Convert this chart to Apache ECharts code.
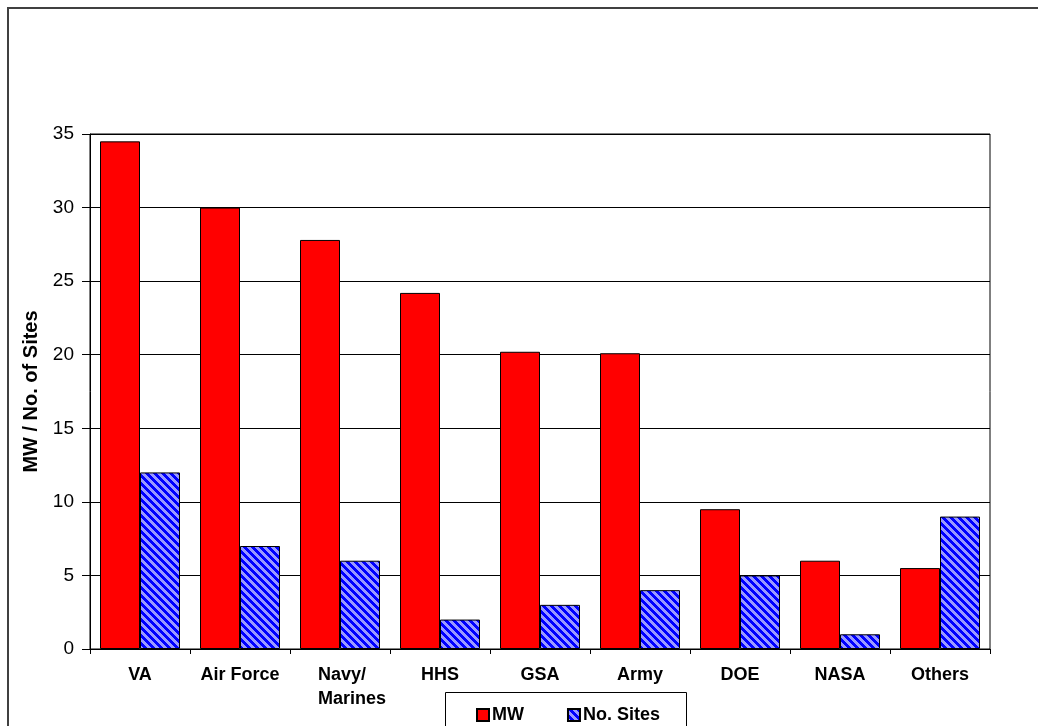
<!DOCTYPE html>
<html>
<head>
<meta charset="utf-8">
<script src="https://cdn.jsdelivr.net/npm/echarts@6/dist/echarts.min.js"></script>
<style>
html,body{margin:0;padding:0;background:#fff;}
#chart{width:1038px;height:726px;}
</style>
</head>
<body>
<div id="chart"></div>
<script>
const categories = ['VA', 'Air Force', 'Navy/\nMarines', 'HHS', 'GSA', 'Army', 'DOE', 'NASA', 'Others'];
const mwValues = [34.5, 30, 27.8, 24.2, 20.2, 20.1, 9.5, 6, 5.5];
const siteValues = [12, 7, 6, 2, 3, 4, 5, 1, 9];
const yTicks = [0, 5, 10, 15, 20, 25, 30, 35];
const seriesNames = ['MW', 'No. Sites'];

function makePattern() {
  const c = document.createElement('canvas');
  c.width = 8; c.height = 8;
  const ctx = c.getContext('2d');
  ctx.fillStyle = '#9999FF';
  ctx.fillRect(0, 0, 8, 8);
  ctx.fillStyle = '#0000FF';
  for (let y = 0; y < 8; y++) {
    for (let x = 0; x < 8; x++) {
      if ((((x - y) % 8) + 8) % 8 < 4) ctx.fillRect(x, y, 1, 1);
    }
  }
  return c;
}

const chart = echarts.init(document.getElementById('chart'), null, {renderer: 'canvas'});
const font = 'Liberation Sans, Arial, sans-serif';

const xData = categories.map(function (c) {
  if (c.indexOf('\n') >= 0) {
    return {value: c, textStyle: {padding: [0, 0, 0, 24]}};
  }
  return c;
});

chart.setOption({
  animation: false,
  backgroundColor: '#fff',
  grid: {
    left: 90, right: 48, top: 134, bottom: 77,
    show: true, borderColor: '#000', borderWidth: 1, backgroundColor: '#fff',
    outerBoundsMode: 'none'
  },
  legend: {
    left: 471, top: 701,
    itemWidth: 12, itemHeight: 12, itemGap: 43,
    icon: 'rect',
    data: seriesNames,
    textStyle: {fontFamily: font, fontWeight: 'bold', fontSize: 18, color: '#000', padding: [0, 0, 0, -2]}
  },
  xAxis: {
    type: 'category',
    data: xData,
    axisLine: {show: true, lineStyle: {color: '#000', width: 1}},
    axisTick: {show: true, length: 5, lineStyle: {color: '#000'}},
    axisLabel: {
      interval: 0, margin: 14,
      fontFamily: font, fontWeight: 'bold', fontSize: 18, color: '#000', lineHeight: 24,
      formatter: function (v) {
        if (v.indexOf('\n') >= 0) {
          return v.split('\n').map(function (s) { return '{l|' + s + '}'; }).join('\n');
        }
        return v;
      },
      rich: {
        l: {align: 'left', fontFamily: font, fontWeight: 'bold', fontSize: 18, color: '#000', lineHeight: 24}
      }
    }
  },
  yAxis: {
    type: 'value',
    min: yTicks[0], max: yTicks[yTicks.length - 1], interval: 5,
    name: 'MW / No. of Sites',
    nameLocation: 'middle', nameGap: 47, nameRotate: 90,
    nameTextStyle: {fontFamily: font, fontWeight: 'bold', fontSize: 20, color: '#000'},
    axisLine: {show: true, lineStyle: {color: '#000', width: 1}},
    axisTick: {show: true, length: 8, lineStyle: {color: '#000'}},
    axisLabel: {margin: 16, fontFamily: font, fontSize: 19, color: '#000'},
    splitLine: {show: true, lineStyle: {color: '#000', width: 1}}
  },
  series: [
    {
      name: seriesNames[0], type: 'bar', data: mwValues,
      barGap: '0%', barCategoryGap: '20%',
      itemStyle: {color: '#FF0000', borderColor: '#000', borderWidth: 1}
    },
    {
      name: seriesNames[1], type: 'bar', data: siteValues,
      barGap: '0%', barCategoryGap: '20%',
      itemStyle: {color: {image: makePattern(), repeat: 'repeat'}, borderColor: '#000', borderWidth: 1}
    }
  ],
  graphic: [
    {type: 'rect', shape: {x: 8, y: 8, width: 1100, height: 800}, style: {fill: null, stroke: '#404040', lineWidth: 2}, z: 100},
    {type: 'rect', shape: {x: 445.5, y: 692.5, width: 241, height: 60}, style: {fill: null, stroke: '#000', lineWidth: 1}, z: 100}
  ]
});
</script>
</body>
</html>
